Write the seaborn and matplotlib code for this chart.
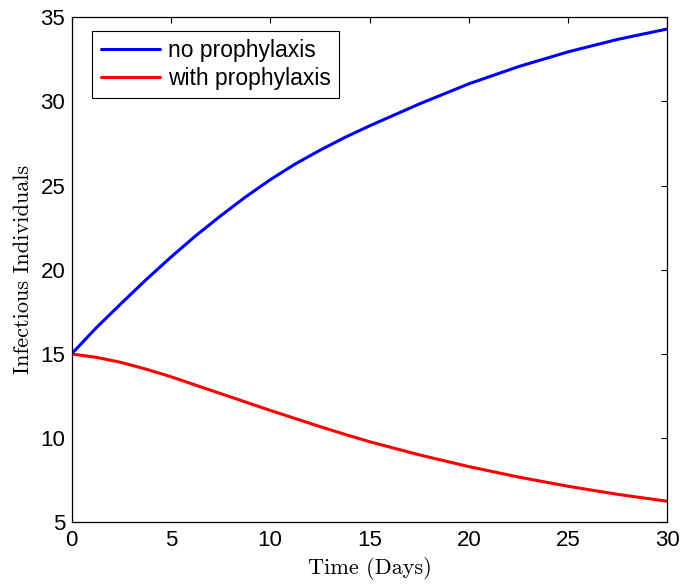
import matplotlib
matplotlib.use("Agg")
import matplotlib.pyplot as plt
import seaborn as sns
import pandas as pd

time_days = [0, 1.25, 2.5, 3.75, 5, 6.25, 7.5, 8.75, 10, 11.25, 12.5, 13.75, 15,
             17.5, 20, 22.5, 25, 27.5, 30]
no_prophylaxis = [15.0, 16.56, 18.0, 19.41, 20.75, 22.02, 23.2, 24.32, 25.35, 26.28,
                  27.1, 27.86, 28.55, 29.85, 31.05, 32.07, 32.95, 33.69, 34.31]
with_prophylaxis = [15.0, 14.8, 14.5, 14.1, 13.65, 13.15, 12.65, 12.15, 11.65, 11.17,
                    10.69, 10.23, 9.79, 9.01, 8.31, 7.69, 7.14, 6.66, 6.25]
series_names = ["no prophylaxis", "with prophylaxis"]
x_ticks = [0, 5, 10, 15, 20, 25, 30]
y_ticks = [5, 10, 15, 20, 25, 30, 35]

df = pd.DataFrame({
    "t": time_days * 2,
    "I": no_prophylaxis + with_prophylaxis,
    "series": [series_names[0]] * len(time_days) + [series_names[1]] * len(time_days),
})

sns.set_theme(style="white")
plt.rcParams['font.family'] = ['Liberation Sans', 'DejaVu Sans']
plt.rcParams['text.color'] = 'black'
plt.rcParams['axes.labelcolor'] = 'black'

fig = plt.figure(figsize=(6.83, 5.87), dpi=100)
ax = fig.add_axes([0.1047, 0.1102, 0.8726, 0.8603])
sns.lineplot(data=df, x="t", y="I", hue="series", palette=["#0000ff", "#ff0000"],
             linewidth=2.2, ax=ax, legend=True)
ax.set_xlim(0, 30)
ax.set_ylim(5, 35)
ax.set_xticks(x_ticks)
ax.set_yticks(y_ticks)
ax.tick_params(direction="in", length=4.3, width=0.8, top=True, right=True,
               labelsize=16, colors="black")
ax.tick_params(axis="x", pad=5.5)
ax.tick_params(axis="y", pad=4.5)
for s in ax.spines.values():
    s.set_color("black")
    s.set_linewidth(0.9)
ax.set_xlabel("Time (Days)", family="cmr10", fontsize=16, labelpad=4, color="black")
ax.set_ylabel("Infectious Individuals", family="cmr10", fontsize=16, labelpad=5, color="black")
leg = ax.legend(loc="upper left", bbox_to_anchor=(0.0349, 0.9735), borderaxespad=0,
                fontsize=16.5, frameon=True, fancybox=False, framealpha=1,
                edgecolor="black", handlelength=2.6, borderpad=0.36,
                labelspacing=0.2, handletextpad=0.35)
leg.get_frame().set_linewidth(0.8)
for t in leg.get_texts():
    t.set_color("black")
fig.savefig("out.png", dpi=100)
